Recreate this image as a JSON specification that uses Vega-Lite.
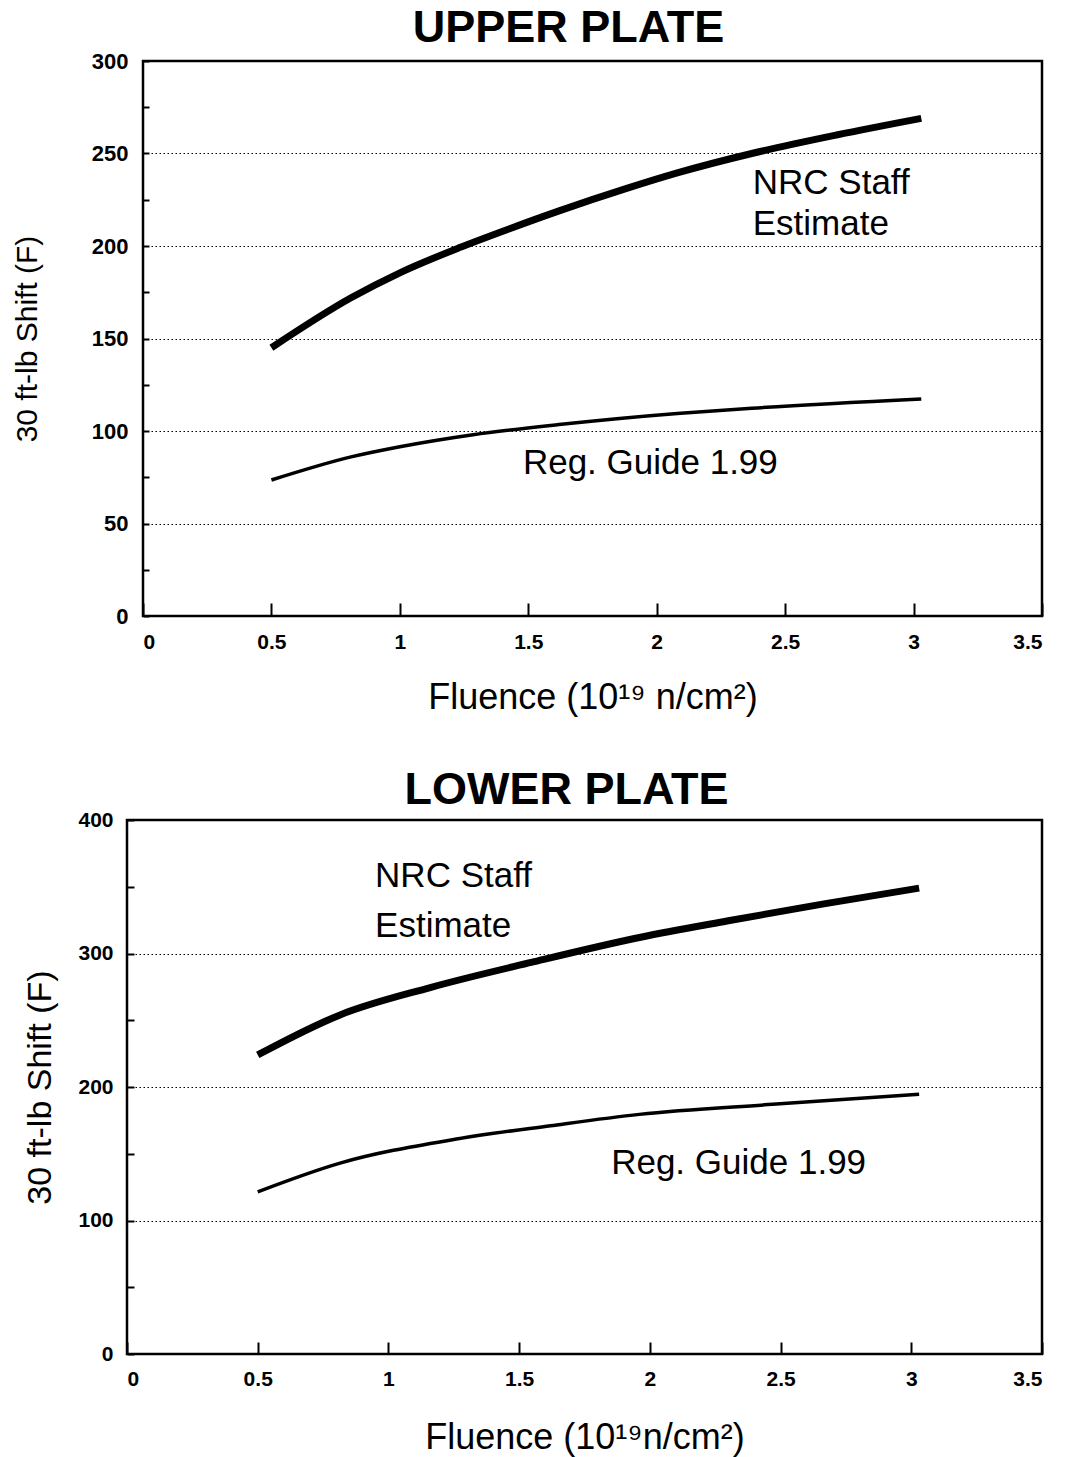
{
  "$schema": "https://vega.github.io/schema/vega-lite/v6.json",
  "background": "white",
  "padding": {"left": 11, "top": 4, "right": 0, "bottom": 0},
  "autosize": {"type": "pad"},
  "datasets": {
    "upper": [
      {"series": "NRC Staff Estimate", "fluence": 0.5, "shift": 145},
      {"series": "NRC Staff Estimate", "fluence": 0.81, "shift": 172},
      {"series": "NRC Staff Estimate", "fluence": 1.0, "shift": 185.5},
      {"series": "NRC Staff Estimate", "fluence": 1.23, "shift": 199},
      {"series": "NRC Staff Estimate", "fluence": 1.43, "shift": 209.5},
      {"series": "NRC Staff Estimate", "fluence": 1.62, "shift": 219},
      {"series": "NRC Staff Estimate", "fluence": 1.88, "shift": 231},
      {"series": "NRC Staff Estimate", "fluence": 2.08, "shift": 239.5},
      {"series": "NRC Staff Estimate", "fluence": 2.37, "shift": 250},
      {"series": "NRC Staff Estimate", "fluence": 2.7, "shift": 260},
      {"series": "NRC Staff Estimate", "fluence": 3.03, "shift": 269},
      {"series": "Reg. Guide 1.99", "fluence": 0.5, "shift": 73.5},
      {"series": "Reg. Guide 1.99", "fluence": 0.81, "shift": 86},
      {"series": "Reg. Guide 1.99", "fluence": 1.0, "shift": 91.5},
      {"series": "Reg. Guide 1.99", "fluence": 1.285, "shift": 98},
      {"series": "Reg. Guide 1.99", "fluence": 1.62, "shift": 103.5},
      {"series": "Reg. Guide 1.99", "fluence": 2.08, "shift": 109.5},
      {"series": "Reg. Guide 1.99", "fluence": 2.37, "shift": 112.3},
      {"series": "Reg. Guide 1.99", "fluence": 3.03, "shift": 117.3}
    ],
    "upperLabels": [
      {"fluence": 2.374, "shift": 234, "label": "NRC Staff"},
      {"fluence": 2.374, "shift": 212, "label": "Estimate"},
      {"fluence": 1.479, "shift": 82.7, "label": "Reg. Guide 1.99"}
    ],
    "lower": [
      {"series": "NRC Staff Estimate", "fluence": 0.5, "shift": 224},
      {"series": "NRC Staff Estimate", "fluence": 0.815, "shift": 254},
      {"series": "NRC Staff Estimate", "fluence": 1.16, "shift": 274.5},
      {"series": "NRC Staff Estimate", "fluence": 1.55, "shift": 293.5},
      {"series": "NRC Staff Estimate", "fluence": 1.96, "shift": 312},
      {"series": "NRC Staff Estimate", "fluence": 2.3, "shift": 324.5},
      {"series": "NRC Staff Estimate", "fluence": 2.66, "shift": 337},
      {"series": "NRC Staff Estimate", "fluence": 3.03, "shift": 349},
      {"series": "Reg. Guide 1.99", "fluence": 0.5, "shift": 121.5},
      {"series": "Reg. Guide 1.99", "fluence": 0.815, "shift": 143},
      {"series": "Reg. Guide 1.99", "fluence": 1.26, "shift": 161},
      {"series": "Reg. Guide 1.99", "fluence": 1.62, "shift": 171},
      {"series": "Reg. Guide 1.99", "fluence": 1.96, "shift": 179.5},
      {"series": "Reg. Guide 1.99", "fluence": 2.47, "shift": 187},
      {"series": "Reg. Guide 1.99", "fluence": 3.03, "shift": 194.5}
    ],
    "lowerLabels": [
      {"fluence": 0.949, "shift": 358, "label": "NRC Staff"},
      {"fluence": 0.949, "shift": 320.6, "label": "Estimate"},
      {"fluence": 1.852, "shift": 143, "label": "Reg. Guide 1.99"}
    ],
    "spacer": [
      {"v": 0}
    ]
  },
  "config": {
    "font": "Liberation Sans",
    "view": {"stroke": "black", "strokeWidth": 2.5},
    "axis": {
      "domain": false,
      "tickColor": "black",
      "tickWidth": 2,
      "labelColor": "black",
      "labelFont": "Liberation Sans",
      "labelFontWeight": "bold",
      "labelFontSize": 21,
      "titleColor": "black",
      "titleFont": "Liberation Sans",
      "titleFontWeight": "normal",
      "gridColor": "black",
      "gridWidth": 1.2,
      "gridDash": [1.5, 2.5]
    },
    "title": {"font": "Liberation Sans", "fontWeight": "bold", "fontSize": 45, "color": "black", "anchor": "middle", "frame": "group", "baseline": "alphabetic"}
  },
  "vconcat": [
    {
      "bounds": "flush",
      "spacing": 15,
      "hconcat": [
        {
          "width": 1,
          "height": 1,
          "view": {"stroke": null},
          "data": {"name": "spacer"},
          "mark": {"type": "point", "opacity": 0},
          "encoding": {}
        },
        {
          "width": 899,
          "height": 555,
          "title": {"text": "UPPER PLATE", "dx": -24, "offset": -1},
          "layer": [
            {
              "data": {"name": "upper"},
              "transform": [{"filter": "datum.series === 'NRC Staff Estimate'"}],
              "mark": {"type": "line", "color": "black", "strokeWidth": 7, "interpolate": "monotone", "strokeCap": "butt"},
              "encoding": {
                "x": {"field": "fluence", "type": "quantitative", "scale": {"domain": [0, 3.5], "nice": false},
                  "axis": {"title": "Fluence (10¹⁹ n/cm²)", "titleFontSize": 36, "titlePadding": 28, "values": [0, 0.5, 1, 1.5, 2, 2.5, 3, 3.5], "format": "~g", "grid": false, "tickSize": -13, "labelPadding": 28}},
                "y": {"field": "shift", "type": "quantitative", "scale": {"domain": [0, 300], "nice": false},
                  "axis": {"title": "30 ft-lb Shift (F)", "titleFontSize": 30, "titlePadding": 49, "labelFontSize": 22,
                    "values": [0, 25, 50, 75, 100, 125, 150, 175, 200, 225, 250, 275, 300],
                    "labelExpr": "datum.value % 50 === 0 ? datum.label : ''",
                    "gridOpacity": {"condition": {"test": "datum.value % 50 !== 0", "value": 0}, "value": 1},
                    "tickSize": -6, "labelPadding": 21}}
              }
            },
            {
              "data": {"name": "upper"},
              "transform": [{"filter": "datum.series === 'Reg. Guide 1.99'"}],
              "mark": {"type": "line", "color": "black", "strokeWidth": 3.5, "interpolate": "monotone"},
              "encoding": {
                "x": {"field": "fluence", "type": "quantitative"},
                "y": {"field": "shift", "type": "quantitative"}
              }
            },
            {
              "data": {"name": "upperLabels"},
              "mark": {"type": "text", "align": "left", "baseline": "middle", "fontSize": 35, "font": "Liberation Sans", "color": "black"},
              "encoding": {
                "x": {"field": "fluence", "type": "quantitative"},
                "y": {"field": "shift", "type": "quantitative"},
                "text": {"field": "label"}
              }
            }
          ]
        }
      ]
    },
    {
      "width": 915,
      "height": 534,
      "title": {"text": "LOWER PLATE", "dx": -18, "offset": -4},
      "layer": [
        {
          "data": {"name": "lower"},
          "transform": [{"filter": "datum.series === 'NRC Staff Estimate'"}],
          "mark": {"type": "line", "color": "black", "strokeWidth": 7, "interpolate": "monotone", "strokeCap": "butt"},
          "encoding": {
            "x": {"field": "fluence", "type": "quantitative", "scale": {"domain": [0, 3.5], "nice": false},
              "axis": {"title": "Fluence (10¹⁹n/cm²)", "titleFontSize": 36, "titlePadding": 31, "values": [0, 0.5, 1, 1.5, 2, 2.5, 3, 3.5], "format": "~g", "grid": false, "tickSize": -12, "labelPadding": 26}},
            "y": {"field": "shift", "type": "quantitative", "scale": {"domain": [0, 400], "nice": false},
              "axis": {"title": "30 ft-lb Shift (F)", "titleFontSize": 34, "titlePadding": 20,
                "values": [0, 50, 100, 150, 200, 250, 300, 350, 400],
                "labelExpr": "datum.value % 100 === 0 ? datum.label : ''",
                "gridOpacity": {"condition": {"test": "datum.value % 100 !== 0", "value": 0}, "value": 1},
                "tickSize": -7, "labelPadding": 21}}
          }
        },
        {
          "data": {"name": "lower"},
          "transform": [{"filter": "datum.series === 'Reg. Guide 1.99'"}],
          "mark": {"type": "line", "color": "black", "strokeWidth": 3.5, "interpolate": "monotone"},
          "encoding": {
            "x": {"field": "fluence", "type": "quantitative"},
            "y": {"field": "shift", "type": "quantitative"}
          }
        },
        {
          "data": {"name": "lowerLabels"},
          "mark": {"type": "text", "align": "left", "baseline": "middle", "fontSize": 35, "font": "Liberation Sans", "color": "black"},
          "encoding": {
            "x": {"field": "fluence", "type": "quantitative"},
            "y": {"field": "shift", "type": "quantitative"},
            "text": {"field": "label"}
          }
        }
      ]
    }
  ],
  "spacing": 49
}
